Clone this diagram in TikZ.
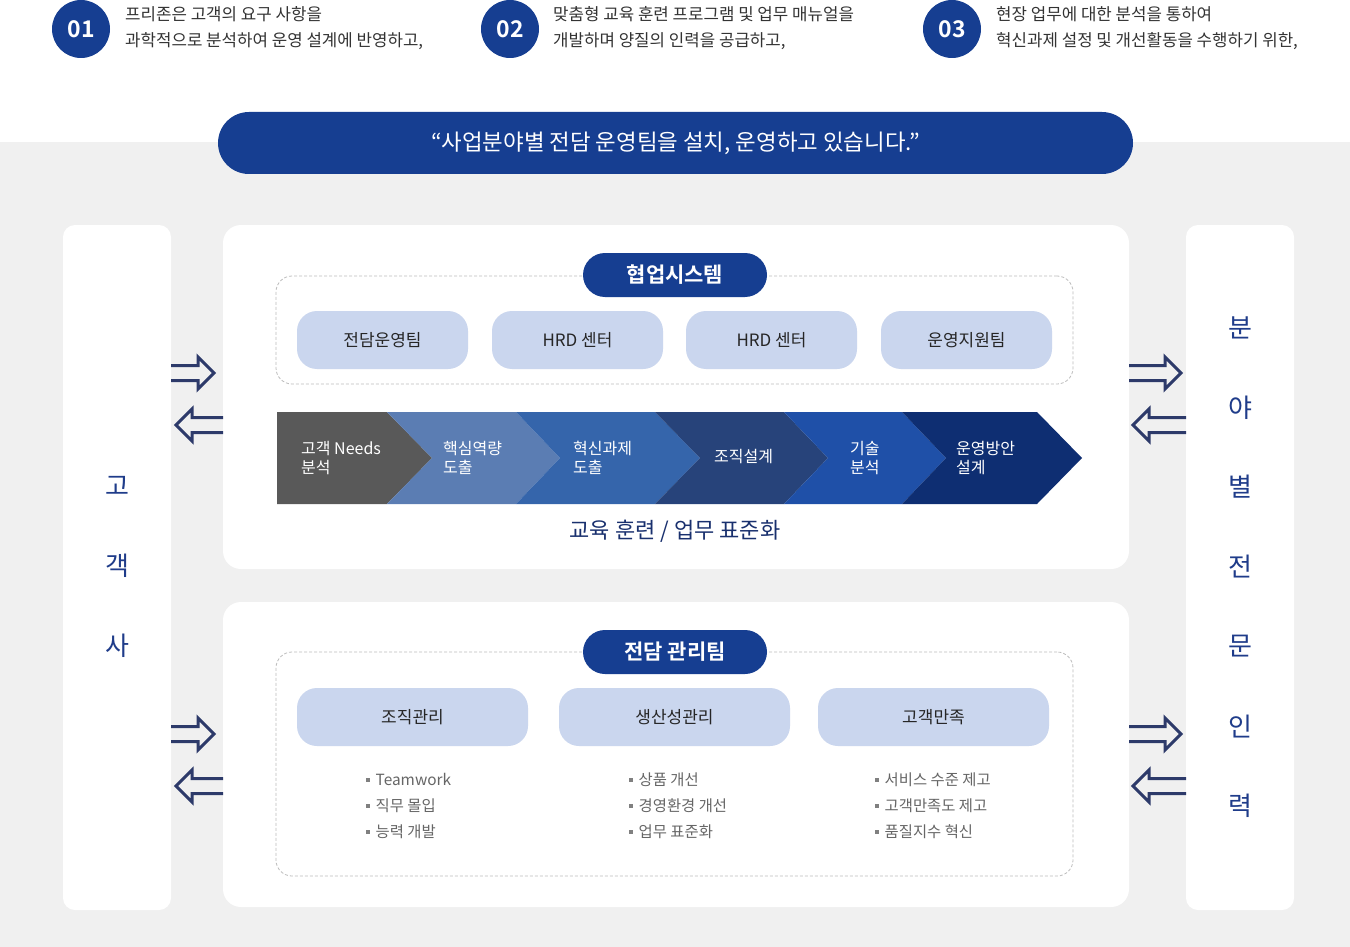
\documentclass[tikz,border=0pt]{standalone}
\usepackage{fontspec}
\setmainfont{Noto Sans CJK KR}[BoldFont={Noto Sans CJK KR Bold}]
\usetikzlibrary{calc}
\definecolor{navy}{HTML}{163E91}
\definecolor{colblue}{HTML}{1F3C8A}
\definecolor{arrowc}{HTML}{2D3A6A}
\definecolor{pillc}{HTML}{CAD6EE}
\definecolor{bgc}{HTML}{F0F0F0}
\definecolor{dashc}{HTML}{BDBDBD}
\definecolor{headc}{HTML}{333333}
\definecolor{chevA}{HTML}{595959}
\definecolor{chevB}{HTML}{5B7DB3}
\definecolor{chevC}{HTML}{3565AB}
\definecolor{chevD}{HTML}{27437A}
\definecolor{chevE}{HTML}{1F50A8}
\definecolor{chevF}{HTML}{0E2E72}
\newcommand{\fs}[2]{\fontsize{#1}{#2}\selectfont}
\newcommand{\bul}{\textcolor{gray}{\rule[4pt]{3.5pt}{3.5pt}}\hspace{6pt}}
% open double arrow from #1 to #2, #3 = offset of the head base
\newcommand{\fatarrow}[3]{%
  \draw[fatline] ($(#1)+(0,-7.5)$) -- ($(#2)+(#3,-7.5)$) -- ($(#2)+(#3,-16)$)
    -- (#2) -- ($(#2)+(#3,16)$) -- ($(#2)+(#3,7.5)$) -- ($(#1)+(0,7.5)$);}

\begin{document}
\begin{tikzpicture}[x=1pt,y=-1pt,
    every node/.style={inner sep=0pt},
    numcirc/.style={circle,fill=navy,minimum size=58pt,text=white,font=\bfseries\fs{23}{25}},
    headtxt/.style={anchor=west,align=left,text=headc,font=\fs{16.8}{26}},
    panel/.style={fill=white,rounded corners=18pt},
    column/.style={fill=white,rounded corners=12pt,minimum width=108pt,minimum height=685pt},
    dashbox/.style={draw=dashc,dash pattern=on 3pt off 2pt,line width=0.8pt,rounded corners=16pt,minimum width=797pt},
    titlepill/.style={fill=navy,rounded corners=22pt,minimum width=184pt,minimum height=44pt,text=white,font=\bfseries\fs{21}{24}},
    pill/.style={fill=pillc,rounded corners=20pt,minimum height=58pt,text=black!85,font=\fs{17}{20}},
    chevtxt/.style={anchor=west,align=left,text=white,font=\fs{16}{19}},
    listtxt/.style={anchor=west,align=left,text=black!60,font=\fs{15.4}{26}},
    vlet/.style={text=colblue,font=\fs{26}{30}},
    fatline/.style={draw=arrowc,line width=3pt,line join=miter}]
  \useasboundingbox (0,0) rectangle (1350,947);
  \fill[bgc] (0,142) rectangle (1350,947);

  % header
  \node[numcirc] (n1) at (81,29) {01};
  \node[numcirc] (n2) at (510,29) {02};
  \node[numcirc] (n3) at (952,29) {03};
  \node[headtxt] (h1) at (125,28) {프리존은 고객의 요구 사항을\\과학적으로 분석하여 운영 설계에 반영하고,};
  \node[headtxt] (h2) at (553,28) {맞춤형 교육 훈련 프로그램 및 업무 매뉴얼을\\개발하며 양질의 인력을 공급하고,};
  \node[headtxt] (h3) at (996,28) {현장 업무에 대한 분석을 통하여\\혁신과제 설정 및 개선활동을 수행하기 위한,};
  \node[fill=navy,rounded corners=31pt,minimum width=915pt,minimum height=62pt,
        text=white,font=\fs{22.4}{26}] (banner) at (675.5,143)
        {“사업분야별 전담 운영팀을 설치, 운영하고 있습니다.”};

  % side columns
  \node[column] (lcol) at (117,567.5) {};
  \node[column] (rcol) at (1240,567.5) {};
  \foreach \ch [count=\i] in {고,객,사}
    \node[vlet] (lc\i) at (117,406+80*\i) {\ch};
  \foreach \ch [count=\i] in {분,야,별,전,문,인,력}
    \node[vlet] (rc\i) at (1240,248+79.7*\i) {\ch};

  % upper panel
  \node[panel,minimum width=906pt,minimum height=344pt] (toppanel) at (676,397) {};
  \node[dashbox,minimum height=108pt] (topdash) at (674.5,330) {};
  \node[titlepill] (sys) at (675,275) {협업시스템};
  \node[pill,minimum width=171pt] (p1) at (382.5,340) {전담운영팀};
  \node[pill,minimum width=171pt] (p2) at (577.5,340) {HRD 센터};
  \node[pill,minimum width=171pt] (p3) at (771.5,340) {HRD 센터};
  \node[pill,minimum width=171pt] (p4) at (966.5,340) {운영지원팀};

  % process band
  \fill[chevA] (277,412) -- (387,412) -- (432,458) -- (387,504) -- (277,504) -- cycle;
  \foreach \a/\b/\c/\d/\col in {387/432/516/560/chevB, 516/560/655/700/chevC,
      655/700/784/828/chevD, 784/828/902/946/chevE, 902/946/1037/1082/chevF}
    \fill[\col] (\a,412) -- (\c,412) -- (\d,458) -- (\c,504) -- (\a,504) -- (\b,458) -- cycle;
  \node[chevtxt] (s1) at (301,458) {고객 Needs\\분석};
  \node[chevtxt] (s2) at (443,458) {핵심역량\\도출};
  \node[chevtxt] (s3) at (573,458) {혁신과제\\도출};
  \node[chevtxt] (s4) at (714,457) {조직설계};
  \node[chevtxt] (s5) at (850,458) {기술\\분석};
  \node[chevtxt] (s6) at (956,458) {운영방안\\설계};
  \node[text=colblue!80!black,font=\fs{22}{26}] (std) at (675,531) {교육 훈련 / 업무 표준화};

  % lower panel
  \node[panel,minimum width=906pt,minimum height=305pt] (botpanel) at (676,754.5) {};
  \node[dashbox,minimum height=224pt] (botdash) at (674.5,764) {};
  \node[titlepill] (mgr) at (675,652) {전담 관리팀};
  \node[pill,minimum width=231pt] (q1) at (412.5,717) {조직관리};
  \node[pill,minimum width=231pt] (q2) at (674.5,717) {생산성관리};
  \node[pill,minimum width=231pt] (q3) at (933.5,717) {고객만족};
  \node[listtxt] (l1) at (366,806) {\bul Teamwork\\\bul 직무 몰입\\\bul 능력 개발};
  \node[listtxt] (l2) at (629,806) {\bul 상품 개선\\\bul 경영환경 개선\\\bul 업무 표준화};
  \node[listtxt] (l3) at (875,806) {\bul 서비스 수준 제고\\\bul 고객만족도 제고\\\bul 품질지수 혁신};

  % arrows between columns and panels
  \foreach \y [count=\k] in {373,734}{
    \coordinate (lin\k) at (171,\y);   \coordinate (lto\k) at (214,\y);
    \coordinate (lout\k) at (223,\y+52); \coordinate (lback\k) at (176,\y+52);
    \coordinate (rin\k) at (1129,\y);  \coordinate (rto\k) at (1181,\y);
    \coordinate (rout\k) at (1186,\y+52); \coordinate (rback\k) at (1133,\y+52);
    \fatarrow{lin\k}{lto\k}{-16}
    \fatarrow{lout\k}{lback\k}{16}
    \fatarrow{rin\k}{rto\k}{-16}
    \fatarrow{rout\k}{rback\k}{16}
  }
\end{tikzpicture}
\end{document}
